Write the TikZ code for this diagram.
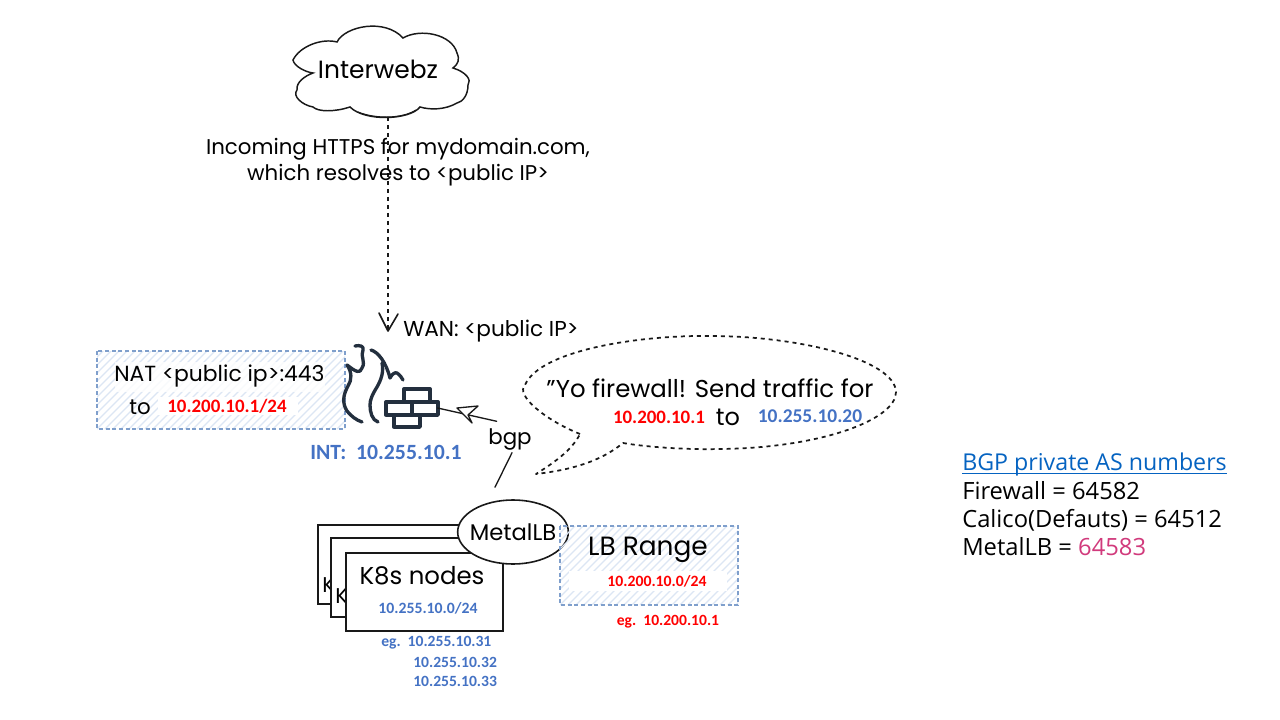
\documentclass[tikz,border=0pt]{standalone}
\usepackage{fontspec}
\setmainfont{Poppins}
\newfontfamily\calib{Carlito}
\newfontfamily\rightf{Open Sans}
\usetikzlibrary{arrows.meta,shapes.geometric}
\definecolor{blu}{HTML}{4472C4}
\definecolor{redd}{HTML}{FF0000}
\definecolor{dashc}{HTML}{7F9FCC}
\definecolor{hatchc}{HTML}{DCE6F4}
\definecolor{navy}{HTML}{232F3E}
\definecolor{lnk}{HTML}{0563C1}
\definecolor{pinkk}{HTML}{D13A7C}
\tikzset{
  x=0.75pt,y=-0.75pt,
  hand/.style={font=\fontsize{16}{20}\selectfont,inner sep=0pt,text=black},
  lab/.style={font=\calib\bfseries\fontsize{14.2}{16}\selectfont,inner sep=0pt},
  small/.style={font=\calib\bfseries\fontsize{11.7}{13}\selectfont,inner sep=0pt,text=blu},
  rtext/.style={font=\rightf\fontsize{17.8}{20}\selectfont,inner sep=0pt,anchor=base west},
  sketch/.style={draw=black!90,line width=0.9pt},
  bluebox/.style={draw=dashc,line width=1pt,dash pattern=on 3pt off 2pt},
  flame/.style={draw=navy,line width=2.5pt,line cap=round,line join=round},
  brick/.style={draw=navy,line width=2.5pt,fill=white,line join=round},
  wipe/.style={fill=white,draw=none},
  dashline/.style={draw=black!90,line width=1.3pt,dash pattern=on 3pt off 3pt},
}
\newcommand{\hatchbox}[4]{%
  \begin{scope}
    \clip (#1,#2) rectangle (#3,#4);
    \foreach \k in {0,8,...,460}{
      \draw[hatchc,line width=0.9pt] (#1+\k-120,#4) -- ++(120,-120);
    }
  \end{scope}
}
\begin{document}
\begin{tikzpicture}
\useasboundingbox (0,0) rectangle (1280,720);
\fill[white] (0,0) rectangle (1280,720);

% cloud
\draw[sketch,line width=1.1pt,fill=white] (293,60)
  .. controls (300,46) and (322,38) .. (337,42)
  .. controls (345,26) and (385,18) .. (403,38)
  .. controls (420,28) and (452,34) .. (457,53)
  .. controls (460,60) and (458,64) .. (453,68)
  .. controls (466,72) and (472,80) .. (468,85)
  .. controls (468,96) and (462,102) .. (457,103)
  .. controls (445,110) and (430,110) .. (420,107)
  .. controls (410,120) and (365,122) .. (350,107)
  .. controls (335,112) and (318,112) .. (313,107)
  .. controls (302,105) and (292,96) .. (297,90)
  .. controls (296,82) and (305,76) .. (313,73)
  .. controls (305,72) and (294,66) .. (293,60) -- cycle;
\draw[sketch,line width=0.8pt] (358,112) .. controls (375,119) and (402,119) .. (416,110);
\node[hand,font=\fontsize{18.7}{22}\selectfont] (cloud) at (378,69) {Interwebz};
\coordinate (cloudbottom) at (388,117);
\coordinate (wan) at (388,331);

% dashed arrow
\draw[dashline] (cloudbottom) -- (wan);
\draw[black!90,line width=1.2pt,line cap=round,line join=round] (379,313) -- (388,331) -- (398,314);

\node[hand,align=center] (incoming) at (398,162) {Incoming HTTPS for mydomain.com,\\which resolves to <public IP>};
\node[hand,font=\fontsize{16.2}{20}\selectfont,anchor=west] (wanl) at (403,331) {WAN: <public IP>};

% NAT box
\hatchbox{97}{351}{345}{429}
\fill[white,opacity=.8] (115,362) rectangle (325,392);
\draw[bluebox] (97,351) rectangle (345,429);
\node[wipe,minimum width=105pt,minimum height=14pt,inner sep=0pt] (natw) at (228,406) {};
\node[hand,font=\fontsize{16.4}{20}\selectfont,anchor=west] (nat1) at (114,376) {NAT <public ip>:443};
\node[hand,anchor=west] (nat2) at (129,407) {to};
\node[lab,text=redd] (nat3) at (227,406) {10.200.10.1/24};
\node[lab,text=blu,font=\calib\bfseries\fontsize{16.3}{18}\selectfont] (int) at (386,452) {INT:\ \ 10.255.10.1};

% firewall
\draw[flame] (355,346) .. controls (360,345) and (364,346) .. (363,350) .. controls (360,356) and (366,362) .. (362,368) .. controls (360,374) and (356,372) .. (347,365)
  .. controls (352,372) and (352,380) .. (348,386) .. controls (343,395) and (342,403) .. (347,411) .. controls (351,416) and (356,420) .. (362,422);
\draw[flame] (371,350) .. controls (378,352) and (386,362) .. (390,378) .. controls (392,374) and (395,372) .. (397,373) .. controls (400,375) and (402,378) .. (403,380);
\draw[flame] (382,363) .. controls (384,372) and (381,380) .. (377,387) .. controls (372,395) and (370,400) .. (370,405) .. controls (370,412) and (372,420) .. (378,422);
\node[inner sep=0pt,minimum width=38pt,minimum height=28pt] (firewall) at (412,408) {};
\draw[brick] (404,389) rectangle (430,402);
\draw[brick] (386,402) rectangle (412,415);
\draw[brick] (412,402) rectangle (438,415);
\draw[brick] (394,415) rectangle (420,427);

% bubble
\draw[dashline,line join=round]
  (580,434) .. controls (545,420) and (515,395) .. (525,385)
  .. controls (540,350) and (640,335) .. (710,336)
  .. controls (800,336) and (895,360) .. (896,392)
  .. controls (896,420) and (820,448) .. (720,449)
  .. controls (680,450) and (640,446) .. (623,443)
  .. controls (600,462) and (570,470) .. (536,474)
  .. controls (555,462) and (572,450) .. (580,434) -- cycle;
\node[hand,font=\fontsize{18.3}{22}\selectfont] (yo) at (710,388) {"Yo firewall! Send traffic for};
\node[lab,text=redd] (yoa) at (659,417) {10.200.10.1};
\node[hand,font=\fontsize{18}{22}\selectfont] (yob) at (728,417) {to};
\node[lab,font=\calib\bfseries\fontsize{14.6}{16}\selectfont,text=blu] (yoc) at (810,416) {10.255.10.20};

% bgp
\node[hand] (bgp) at (510,439) {bgp};
% nodes stack
\draw[sketch,fill=white,line width=1.2pt] (318,525) rectangle (474,604);
\node[hand,anchor=west] (k1) at (322,585) {K};
\draw[sketch,fill=white,line width=1.2pt] (331,538) rectangle (488,617);
\node[hand,anchor=west] (k2) at (335,596) {K};
\node[sketch,line width=1.2pt,draw,fill=white,minimum width=118pt,minimum height=58.5pt,anchor=north west,inner sep=0pt] (k8s) at (345,552) {};
\node[hand,font=\fontsize{18.3}{22}\selectfont] (k8st) at (422,576) {K8s nodes};
\node[lab,text=blu,font=\calib\bfseries\fontsize{11.8}{13}\selectfont] (k8ss) at (428,608) {10.255.10.0/24};

% metallb
\node[sketch,line width=1.2pt,draw,fill=white,ellipse,minimum width=83pt,minimum height=48pt,inner sep=0pt] (metallb) at (513,532) {};
\node[hand,font=\fontsize{17}{22}\selectfont] (metallbt) at (513,532) {MetalLB};

\draw[black!90,line width=1pt,line cap=round] ([xshift=1.5pt,yshift=-2pt]bgp.south) -- ([xshift=-13.5pt,yshift=9pt]metallb.north);
\draw[black!90,line width=1pt,line cap=round] ([xshift=-10pt,yshift=5pt]bgp.north) -- (firewall.east);
\draw[black!90,fill=white,line width=1pt,line join=round]
  (457,408) -- (478,406) -- (468,415) -- (472,423) -- cycle;

% eg lines
\node[small,anchor=west] (eg1) at (381,643) {eg.\ \ 10.255.10.31};
\node[small,anchor=west] (eg2) at (413,662) {10.255.10.32};
\node[small,anchor=west] (eg3) at (413,681) {10.255.10.33};

% LB box
\hatchbox{560}{526}{738}{605}
\draw[bluebox] (560,526) rectangle (738,605);
\node[wipe,minimum width=118pt,minimum height=15pt,inner sep=0pt] (lbw) at (648,581) {};
\node[hand,font=\fontsize{19.8}{23}\selectfont] (lb) at (648,550) {LB Range};
\node[small,text=redd,font=\calib\bfseries\fontsize{11.8}{13}\selectfont] (lbr) at (657,581) {10.200.10.0/24};
\node[small,text=redd] (lbe) at (668,622) {eg.\ \ 10.200.10.1};

% right text
\node[rtext,text=lnk,font=\rightf\fontsize{17.4}{20}\selectfont] (r0) at (962,470) {BGP private AS numbers};
\draw[lnk,line width=0.9pt] ([yshift=-2.6pt]r0.base west) -- ([yshift=-2.6pt]r0.base east);
\node[rtext] (r1) at (962,499) {Firewall = 64582};
\node[rtext] (r2) at (962,527) {Calico(Defauts) = 64512};
\node[rtext] (r3) at (962,555) {MetalLB = \textcolor{pinkk}{64583}};
\end{tikzpicture}
\end{document}
